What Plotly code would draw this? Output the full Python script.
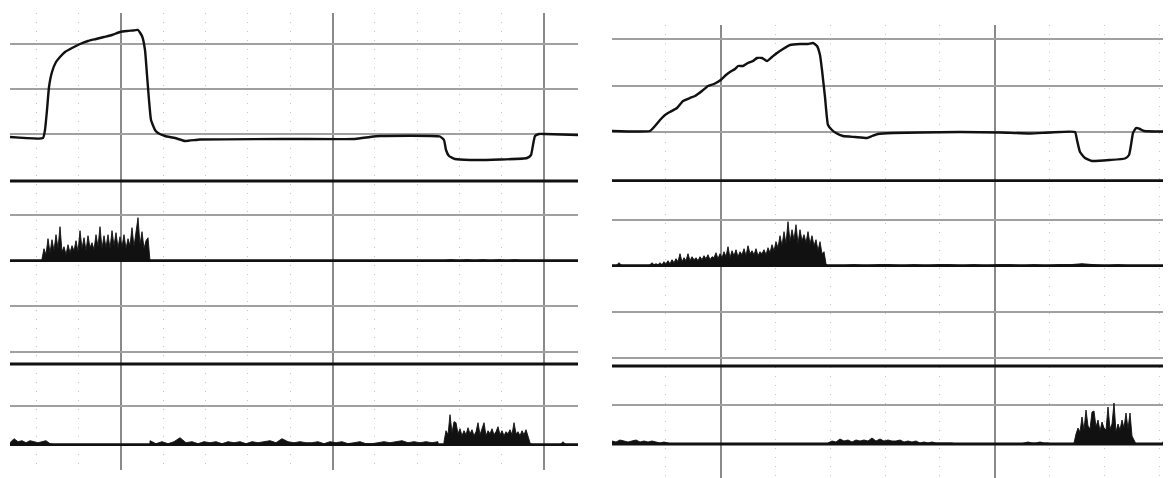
import plotly.graph_objects as go

# ---------------- data ----------------
# time in samples from the left edge of each record, amplitude in trace units (up = +)

# Left record - force / position trace
L_curve_t = [0, 33, 35, 37, 39, 42, 46, 50, 55, 62, 70, 78, 86, 94, 102, 110, 117, 123, 128, 132,
             135, 137, 139, 141, 145, 148, 155, 165, 175, 190, 280, 345, 360, 370, 430, 434, 436, 439, 445, 460,
             490, 517, 521, 523, 525, 529, 535, 568]
L_curve_v = [0, -1, 7, 27, 50, 65, 75, 80, 85, 89, 93, 96, 98, 100, 102, 105, 106, 106.5, 107, 101,
             87, 62, 37, 17, 7, 4, 1, -1, -4, -2.5, -2, -2, 0, 1, 0.5, -3, -13, -19, -22, -23,
             -22.5, -21, -18, -8, 1, 3, 3, 2]

# Left record - EMG channel 1 (start, step, amplitudes)
L_emg1_burst = [2, 12, 6, 22, 8, 21, 10, 26, 12, 34, 9, 14, 6, 16, 8, 15, 10, 20, 9, 30,
                12, 23, 10, 25, 13, 18, 11, 26, 14, 34, 12, 25, 13, 26, 12, 30, 15, 28, 13, 24,
                14, 26, 12, 22, 15, 33, 14, 28, 43, 16, 29, 12, 20, 23, 3]
L_emg1_tail = [0, 1, 0, 1, 0, 1, 0, 1, 0, 1, 0]

# Left record - EMG channel 2
L_emg2_pre = [2, 6, 3, 4, 2, 4, 3, 2, 3, 4, 1, 0]
L_emg2_noise = [4, 1, 3, 1, 3, 7, 2, 3, 1, 3, 2, 3, 1, 3, 2, 3, 1, 3, 2, 3,
                4, 2, 6, 3, 2, 3, 2, 2, 3, 1, 3, 2, 3, 1, 2, 3, 1, 1, 2, 3,
                2, 3, 4, 2, 3, 2, 3, 2, 3]
L_emg2_burst = [3, 14, 10, 30, 12, 23, 22, 11, 16, 9, 14, 10, 17, 11, 15, 9, 13, 22, 10, 15,
                22, 9, 14, 11, 16, 10, 13, 18, 10, 14, 9, 13, 11, 15, 10, 22, 11, 13, 9, 14,
                10, 15, 8, 2, 0]
L_emg2_post = [0, 3, 0]

# Right record - force / position trace
R_curve_t = [0, 38, 43, 48, 53, 58, 65, 71, 78, 83, 90, 96, 102, 108.7, 114, 118, 123, 126, 131, 136,
             141, 145, 150, 155, 160, 165, 171, 178, 188, 196, 201, 205, 208, 210, 213, 216, 220, 224, 231, 243,
             255, 260, 266, 281, 308, 348, 388, 418, 438, 463, 465, 468, 473, 480, 498, 513, 517, 519, 521, 524,
             528, 532, 559]
R_curve_v = [0, 0, 5, 11, 16, 19, 23, 30, 33, 35, 40, 45, 47, 51, 56, 59, 62, 65, 65, 68,
             70, 73, 73, 70, 74, 78, 82, 86, 87, 87, 88, 85, 76, 61, 34, 6, 1, -2, -5, -6,
             -7, -5, -3, -2, -1.5, -1, -1.5, -2.5, -1.5, -1, -9, -21, -27, -30, -29, -27.5, -24, -14, -2, 3,
             2, 0, -0.5]

# Right record - EMG channel 1
R_emg1_pre = [0, 3, 0]
R_emg1_burst = [1, 3, 1, 2, 1, 3, 1, 4, 2, 5, 2, 6, 3, 7, 4, 12, 4, 8, 5, 12,
                5, 9, 6, 8, 5, 9, 6, 10, 7, 11, 6, 9, 8, 13, 7, 12, 8, 14, 9, 19,
                8, 15, 10, 16, 9, 14, 11, 17, 10, 20, 12, 15, 11, 17, 10, 14, 12, 16, 11, 18,
                13, 21, 15, 24, 18, 30, 20, 34, 22, 44, 24, 36, 26, 41, 22, 36, 25, 31, 23, 34,
                22, 30, 20, 26, 15, 24, 12, 14, 2, 0]
R_emg1_tail = [0, 1, 0, 1, 1, 0, 1, 0, 1, 1, 0, 1, 0, 1, 1, 0, 1, 0, 1, 1, 2, 1, 0, 1, 0]

# Right record - EMG channel 2
R_emg2_pre = [3, 2, 4, 3, 2, 3, 4, 2, 3, 2, 3, 2, 1, 2, 1, 0]
R_emg2_mid = [1, 3, 2, 5, 3, 4, 2, 4, 3, 4, 3, 6, 3, 5, 3, 4, 3, 3, 4, 2,
              3, 2, 3, 1, 2, 1, 2, 1, 1, 1, 1, 1, 0]
R_emg2_blips = [0, 1, 2, 1, 1, 2, 1, 1, 0]
R_emg2_burst = [1, 10, 16, 12, 27, 14, 34, 18, 15, 32, 33, 17, 24, 13, 22, 16, 14, 37, 15, 20,
                41, 12, 20, 14, 24, 16, 31, 15, 31, 8, 3, 0]
R_emg2_post = [0, 4, 0]

# ---------------- layout constants (screen pixels) ----------------
OFF = 8                      # page body margin of the browser
W, H = 1171 - OFF, 478 - OFF
LEFT = dict(px0=10, px1=578, top=13, bottom=470, xr=568)
RIGHT = dict(px0=612, px1=1171, top=25, bottom=478, xr=559)

# baselines (in panel y units, measured up from panel bottom)
L_base = dict(curve=333, div1=289, emg1=209.3, div2=106, emg2=25.3)
R_base = dict(curve=347, div1=297.3, emg1=212.3, div2=112, emg2=34)
L_grid_y = [426, 381, 336, 255, 164, 118, 64]
R_grid_y = [439, 392.5, 346, 258, 166.3, 120, 73]
L_x_major, L_x_minor = (111, 211.5), 42.3
R_x_major, R_x_minor = (108.7, 274.0), 54.8

INK = "#111111"

fig = go.Figure()


def emg_polygon(base, end, segments):
    xs, ys = [0], [base]
    for start, step, vals in segments:
        xs.append(start)
        ys.append(base)
        for i, v in enumerate(vals):
            xs.append(start + i * step)
            ys.append(base + v)
        xs.append(start + (len(vals) - 1) * step)
        ys.append(base)
    xs += [end, end, 0]
    ys += [base, base, base]
    return xs, ys


def add_record(xa, ya, base, curve_t, curve_v, emg1_segs, emg2_segs, xend):
    fig.add_trace(go.Scatter(
        x=curve_t, y=[base["curve"] + v for v in curve_v], mode="lines",
        line=dict(color=INK, width=2.4, shape="spline", smoothing=0.4),
        xaxis=xa, yaxis=ya, hoverinfo="skip", showlegend=False))
    for key, segs in (("emg1", emg1_segs), ("emg2", emg2_segs)):
        xs, ys = emg_polygon(base[key], xend, segs)
        fig.add_trace(go.Scatter(
            x=xs, y=ys, mode="lines", fill="toself", fillcolor=INK,
            line=dict(color=INK, width=0.9), xaxis=xa, yaxis=ya,
            hoverinfo="skip", showlegend=False))
    for key in ("div1", "emg1", "div2", "emg2"):
        fig.add_shape(type="line", xref=f"{xa} domain", yref=ya,
                      x0=0, x1=1, y0=base[key], y1=base[key],
                      line=dict(color=INK, width=2.8))


add_record("x", "y", L_base, L_curve_t, L_curve_v,
           [(32, 2, L_emg1_burst), (433, 8, L_emg1_tail)],
           [(0, 4, L_emg2_pre), (140, 6, L_emg2_noise), (434, 2, L_emg2_burst), (550, 3, L_emg2_post)],
           LEFT["xr"])
add_record("x2", "y2", R_base, R_curve_t, R_curve_v,
           [(4, 3, R_emg1_pre), (38, 2, R_emg1_burst), (230, 12, R_emg1_tail)],
           [(0, 4, R_emg2_pre), (216, 4, R_emg2_mid), (408, 4, R_emg2_blips),
            (462, 2, R_emg2_burst), (550, 2, R_emg2_post)],
           RIGHT["xr"])


def xaxis_cfg(p, major, minor):
    return dict(
        domain=[(p["px0"] - OFF) / W, min((p["px1"] - OFF) / W, 1.0)], range=[0, p["xr"]],
        showticklabels=False, zeroline=False, showline=False, ticks="",
        tickmode="linear", tick0=major[0], dtick=major[1],
        showgrid=True, gridcolor="#8a8a8a", gridwidth=1.5,
        minor=dict(tickmode="linear", tick0=major[0], dtick=minor, showgrid=True,
                   gridcolor="#c4c4c4", gridwidth=1, griddash="1px,8px", ticks=""),
    )


def yaxis_cfg(p, grid, anchor):
    return dict(
        domain=[max(1 - (p["bottom"] - OFF) / H, 0.0), 1 - (p["top"] - OFF) / H],
        range=[0, p["bottom"] - p["top"]],
        showticklabels=False, zeroline=False, showline=False, ticks="",
        tickmode="array", tickvals=grid,
        showgrid=True, gridcolor="#a0a0a0", gridwidth=1.5, anchor=anchor,
    )


fig.update_layout(
    width=W, height=H, margin=dict(l=0, r=0, t=0, b=0),
    paper_bgcolor="white", plot_bgcolor="white", showlegend=False,
    xaxis=dict(xaxis_cfg(LEFT, L_x_major, L_x_minor), anchor="y"),
    yaxis=yaxis_cfg(LEFT, L_grid_y, "x"),
    xaxis2=dict(xaxis_cfg(RIGHT, R_x_major, R_x_minor), anchor="y2"),
    yaxis2=yaxis_cfg(RIGHT, R_grid_y, "x2"),
)

fig.write_html("out.html")
